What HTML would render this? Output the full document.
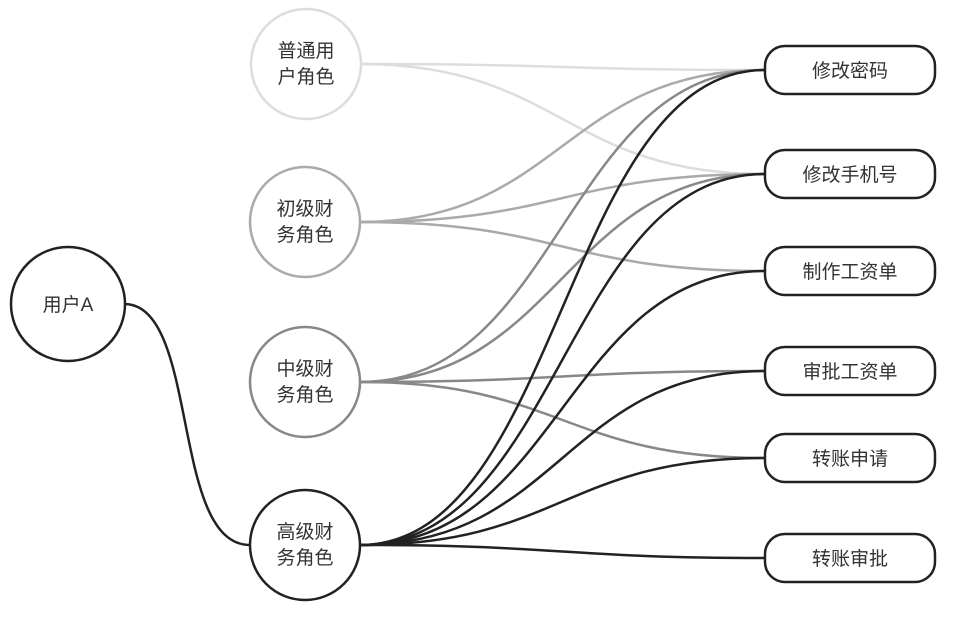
<!DOCTYPE html>
<html><head><meta charset="utf-8"><style>
body{margin:0;background:#fff;}
svg{display:block}
text{font-family:"Liberation Sans","Noto Sans CJK SC",sans-serif;font-size:19px;fill:#333;text-anchor:middle}
</style></head><body>
<svg width="964" height="618" viewBox="0 0 964 618" xmlns="http://www.w3.org/2000/svg">
<g fill="none" stroke-width="2.5">
<g stroke="#ddd">
<path d="M360,64 C560,64 565,70 765,70"/>
<path d="M360,64 C560,64 565,174 765,174"/>
</g>
<g stroke="#aaa">
<path d="M360,222 C560,222 565,70 765,70"/>
<path d="M360,222 C560,222 565,174 765,174"/>
<path d="M360,222 C560,222 565,271 765,271"/>
</g>
<g stroke="#888">
<path d="M360,382 C560,382 565,70 765,70"/>
<path d="M360,382 C560,382 565,174 765,174"/>
<path d="M360,382 C560,382 565,371 765,371"/>
<path d="M360,382 C560,382 565,458 765,458"/>
</g>
<g stroke="#222">
<path d="M360,545 C560,545 565,70 765,70"/>
<path d="M360,545 C560,545 565,174 765,174"/>
<path d="M360,545 C560,545 565,271 765,271"/>
<path d="M360,545 C560,545 565,371 765,371"/>
<path d="M360,545 C560,545 565,458 765,458"/>
<path d="M360,545 C560,545 565,558 765,558"/>
<path d="M124,304 C200,304 170,545 250,545"/>
</g>
</g>
<g stroke-width="2.5" fill="#fff">
<circle cx="68" cy="304" r="57" stroke="#222"/>
<circle cx="306" cy="64" r="55" stroke="#ddd"/>
<circle cx="305" cy="222" r="55" stroke="#aaa"/>
<circle cx="305" cy="382" r="55" stroke="#888"/>
<circle cx="305" cy="545" r="55" stroke="#222"/>
<g stroke="#222">
<rect x="765" y="46" width="170" height="48" rx="20"/>
<rect x="765" y="150" width="170" height="48" rx="20"/>
<rect x="765" y="247" width="170" height="48" rx="20"/>
<rect x="765" y="347" width="170" height="48" rx="20"/>
<rect x="765" y="434" width="170" height="48" rx="20"/>
<rect x="765" y="534" width="170" height="48" rx="20"/>
</g>
</g>
<text x="68" y="311">用户A</text>
<text x="306" y="57">普通用</text><text x="306" y="83">户角色</text>
<text x="305" y="215">初级财</text><text x="305" y="241">务角色</text>
<text x="305" y="375">中级财</text><text x="305" y="401">务角色</text>
<text x="305" y="538">高级财</text><text x="305" y="564">务角色</text>
<text x="850" y="77">修改密码</text>
<text x="850" y="181">修改手机号</text>
<text x="850" y="278">制作工资单</text>
<text x="850" y="378">审批工资单</text>
<text x="850" y="465">转账申请</text>
<text x="850" y="565">转账审批</text>
</svg>
</body></html>
